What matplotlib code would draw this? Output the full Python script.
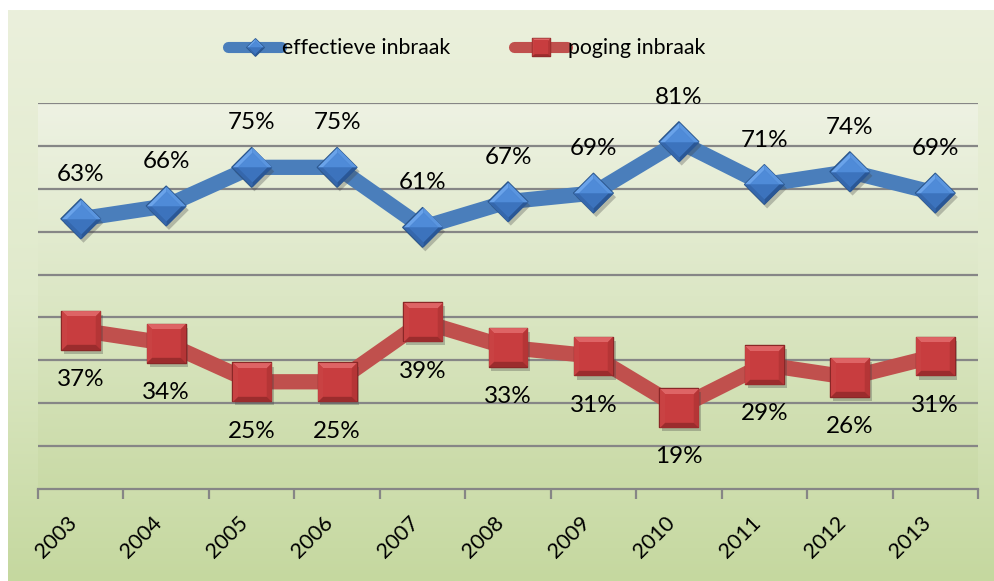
import numpy as np
import matplotlib
matplotlib.use("Agg")
import matplotlib.pyplot as plt
from matplotlib.path import Path
from matplotlib.lines import Line2D
from matplotlib.legend_handler import HandlerTuple
import matplotlib.patheffects as pe
from matplotlib.colors import LinearSegmentedColormap

# ---------------- data ----------------
years = ["2003", "2004", "2005", "2006", "2007", "2008", "2009", "2010", "2011", "2012", "2013"]
effectief = [0.63, 0.66, 0.75, 0.75, 0.61, 0.67, 0.69, 0.81, 0.71, 0.74, 0.69]
poging = [0.37, 0.34, 0.25, 0.25, 0.39, 0.33, 0.31, 0.19, 0.29, 0.26, 0.31]
series_names = ["effectieve inbraak", "poging inbraak"]

plt.rcParams['font.family'] = ['Lato', 'DejaVu Sans']

W, H = 995, 581
fig = plt.figure(figsize=(W / 100, H / 100), dpi=100)
fig.patch.set_facecolor("white")

# figure background gradient
bg = fig.add_axes([8 / W, 0, (W - 8) / W, (H - 10) / H], zorder=-3)
bg_cmap = LinearSegmentedColormap.from_list("bg", ["#C5D89F", "#E0EACB", "#EBF0DC"])
bg.imshow(np.linspace(0, 1, 256)[:, None], cmap=bg_cmap, aspect="auto",
          extent=[0, 1, 0, 1], origin="lower")
bg.set_axis_off()

# plot-area rectangle
L, R, T, B = 38, 978, 103, 489
pos = [L / W, (H - B) / H, (R - L) / W, (B - T) / H]
pa = fig.add_axes(pos, zorder=-2)
pa_cmap = LinearSegmentedColormap.from_list("pa", ["#C9DAA6", "#DCE7C5", "#EEF2E3"])
pa.imshow(np.linspace(0, 1, 256)[:, None], cmap=pa_cmap, aspect="auto",
          extent=[0, 1, 0, 1], origin="lower")
pa.set_axis_off()

ax = fig.add_axes(pos, zorder=1)
ax.patch.set_alpha(0)

x = np.arange(len(years))

# ---------------- marker shapes ----------------
def P(verts):
    verts = list(verts) + [verts[0]]
    codes = [Path.MOVETO] + [Path.LINETO] * (len(verts) - 2) + [Path.CLOSEPOLY]
    return Path(verts, codes)

k = 0.74
d_outer = P([(0, 1), (1, 0), (0, -1), (-1, 0)])
d_tl = P([(-1, 0), (0, 1), (0, k), (-k, 0)])
d_tr = P([(0, 1), (1, 0), (k, 0), (0, k)])
d_bl = P([(-1, 0), (-k, 0), (0, -k), (0, -1)])
d_br = P([(1, 0), (0, -1), (0, -k), (k, 0)])
d_cup = P([(-k, 0), (0, k), (k, 0)])
d_clo = P([(-k, 0), (k, 0), (0, -k)])

s_outer = P([(-1, -1), (-1, 1), (1, 1), (1, -1)])
s_top = P([(-1, 1), (1, 1), (k, k), (-k, k)])
s_bot = P([(-1, -1), (-k, -k), (k, -k), (1, -1)])
s_left = P([(-1, -1), (-1, 1), (-k, k), (-k, -k)])
s_right = P([(1, 1), (1, -1), (k, -k), (k, k)])
s_in = P([(-k, -k), (-k, k), (k, k), (k, -k)])


def facet_marker(path, ms_full):
    m = np.max(np.abs(path.vertices))
    return path, ms_full * m


def draw_markers(axis, xs, ys, pieces, ms, zorder, shadow=True):
    for i, (path, fc, ec, lw) in enumerate(pieces):
        p, s = facet_marker(path, ms)
        ln, = axis.plot(xs, ys, linestyle="none", marker=p, markersize=s,
                        markerfacecolor=fc, markeredgecolor=ec, markeredgewidth=lw,
                        zorder=zorder + i * 0.01)
        if i == 0 and shadow:
            ln.set_path_effects([pe.SimplePatchShadow(offset=(2, -3), alpha=0.3,
                                                      shadow_rgbFace="#404040"),
                                 pe.Normal()])


blue_pieces = [
    (d_outer, "#3E77C0", "#2B568C", 1.0),
    (d_tl, "#6AA3EA", "none", 0),
    (d_tr, "#5A95DF", "none", 0),
    (d_bl, "#3567AC", "none", 0),
    (d_br, "#2A5796", "none", 0),
    (d_cup, "#4F8BD8", "none", 0),
    (d_clo, "#3C73BD", "none", 0),
]
red_pieces = [
    (s_outer, "#C43C3D", "#8A2727", 1.0),
    (s_top, "#DE6465", "none", 0),
    (s_left, "#C94243", "none", 0),
    (s_right, "#B53536", "none", 0),
    (s_bot, "#9B2C2D", "none", 0),
    (s_in, "#C83D3F", "none", 0),
]

BLUE_LINE = "#4A7EBB"
RED_LINE = "#C0504D"

ax.plot(x, effectief, color=BLUE_LINE, lw=11, solid_joinstyle="round", zorder=3)
ax.plot(x, poging, color=RED_LINE, lw=11, solid_joinstyle="round", zorder=3)

draw_markers(ax, x, effectief, blue_pieces, 28.5, zorder=4)
draw_markers(ax, x, poging, red_pieces, 28, zorder=4)

for xi, v in zip(x, effectief):
    ax.annotate(f"{round(v * 100)}%", (xi, v), xytext=(0, 32), textcoords="offset points",
                ha="center", va="center", fontsize=17.5, color="black", zorder=6)
for xi, v in zip(x, poging):
    ax.annotate(f"{round(v * 100)}%", (xi, v), xytext=(0, -35.5), textcoords="offset points",
                ha="center", va="center", fontsize=17.5, color="black", zorder=6)

ax.set_xlim(-0.5, len(years) - 0.5)
ax.set_ylim(0, 0.9)
ax.set_yticks(np.arange(0.1, 0.91, 0.1))
ax.yaxis.grid(True, color="#868686", lw=1.6)
ax.set_axisbelow(True)
ax.tick_params(axis="y", left=False, labelleft=False)
for s in ["left", "right", "top"]:
    ax.spines[s].set_visible(False)
ax.spines["bottom"].set_color("#868686")
ax.spines["bottom"].set_linewidth(1.6)

ax.set_xticks(np.arange(-0.5, len(years), 1.0))
ax.set_xticklabels([])
ax.tick_params(axis="x", which="major", direction="out", length=7, width=1.6, color="#868686")
ax.set_xticks(x, minor=True)
ax.set_xticklabels(years, minor=True, rotation=45, ha="right", va="top",
                   rotation_mode="default", fontsize=15.5)
ax.tick_params(axis="x", which="minor", length=0, pad=17)


def legend_handle(line_color, pieces, ms):
    hs = [Line2D([], [], color=line_color, lw=8, solid_capstyle="round")]
    for path, fc, ec, lw in pieces:
        p, s = facet_marker(path, ms)
        hs.append(Line2D([], [], linestyle="none", marker=p, markersize=s,
                         markerfacecolor=fc, markeredgecolor=ec, markeredgewidth=lw))
    return tuple(hs)

h1 = legend_handle(BLUE_LINE, blue_pieces, 12.5)
h2 = legend_handle(RED_LINE, red_pieces, 13)
fig.legend([h1, h2], series_names, handler_map={tuple: HandlerTuple(ndivide=1, pad=0)},
           loc="center", bbox_to_anchor=(467 / W, 1 - 48 / H), ncol=2, frameon=False,
           fontsize=15.3, handlelength=2.5, handletextpad=0.05, columnspacing=3.0)

fig.savefig("out.png", dpi=100)
